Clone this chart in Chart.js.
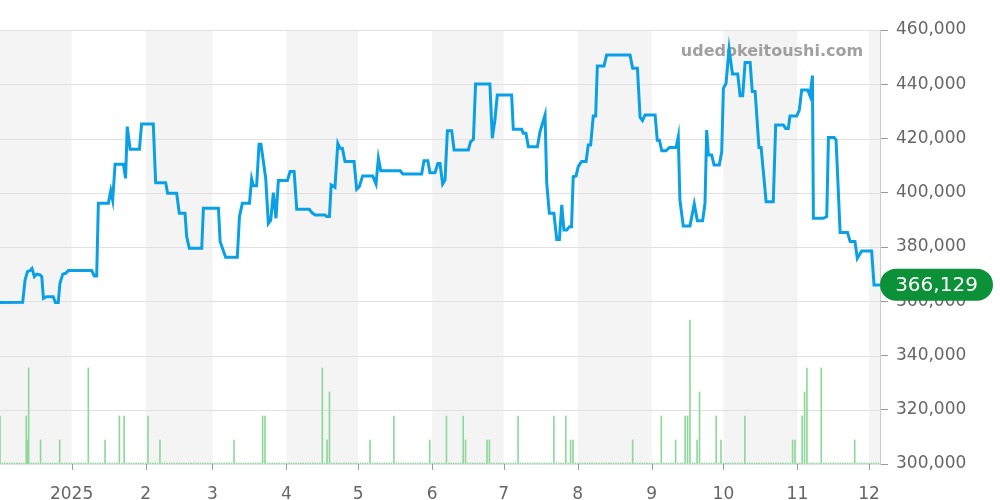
<!DOCTYPE html>
<html><head><meta charset="utf-8">
<script src="https://cdn.jsdelivr.net/npm/chart.js@4/dist/chart.umd.min.js"></script>
<style>html,body{margin:0;padding:0;background:#fff}#w{width:1000px;height:500px}</style>
</head><body><div id="w"><canvas id="c"></canvas></div>
<script>
// x = days since 2024-12-02
const monthStarts = [30,61,89,120,150,181,211,242,273,303,334,364];
const monthLabels = ['2025','2','3','4','5','6','7','8','9','10','11','12'];
const shadedMonths = [[0,30],[61,89],[120,150],[181,211],[242,273],[303,334],[364,368.6]];
const priceDays = [0,9.5,10.5,11.5,12.6,13.4,14.4,15.4,16.8,17.5,18.2,19.5,22.3,23.2,24.4,25.1,26.3,27.5,28.6,38.4,39.5,40.5,41.2,45.4,46.4,47.2,48.2,51.7,52.6,53.3,54.5,58.4,59.3,64.2,65.2,69.4,70.2,74.0,75.1,77.5,78.2,79.3,84.5,85.2,91.5,92.2,94.5,99.4,100.3,101.5,104.5,105.4,106.1,107.5,108.5,109.3,111.3,112.4,113.4,114.5,115.6,116.6,120.4,121.5,123.2,124.3,129.6,130.6,132.0,136.2,136.8,138.0,138.7,140.3,141.5,142.4,143.4,144.5,148.3,149.4,150.5,151.9,156.1,157.5,158.5,159.5,167.6,168.7,176.6,177.6,179.2,180.1,182.2,183.4,184.3,185.4,186.4,187.4,189.2,190.2,196.2,197.1,198.3,199.2,205.2,206.2,207.3,208.3,214.3,215.0,218.5,219.2,220.3,221.3,225.1,226.2,228.3,229.0,230.1,232.0,233.2,234.3,235.3,236.2,237.4,238.5,239.4,240.1,241.3,242.2,243.6,245.5,246.4,247.4,248.5,249.5,250.2,253.0,254.1,263.9,265.0,267.0,268.1,269.1,270.2,274.4,275.3,276.2,277.2,279.0,280.4,283.2,284.1,284.8,286.2,289.0,290.8,292.1,294.3,295.3,296.0,296.7,298.1,299.1,301.3,302.3,303.0,304.1,305.4,306.8,309.0,310.0,311.1,312.1,314.2,315.1,316.3,317.9,318.8,320.9,323.9,324.9,328.1,329.1,330.2,330.9,333.7,334.8,335.8,338.3,339.3,340.3,340.7,344.9,346.3,347.0,349.4,350.2,351.9,355.0,356.1,358.1,359.1,360.9,365.1,366.1,368.6];
const priceValues = [359500,359600,367800,370900,371300,372100,369100,370000,369700,369100,361100,361700,361700,359500,359500,366600,370000,370300,371300,371300,369300,369300,396100,396100,400800,397300,410500,410500,405300,424400,416000,416000,425300,425300,403700,403700,399800,399800,392400,392400,383800,379500,379500,394300,394300,382000,376200,376200,391200,396100,396100,405100,402600,402600,417900,417900,405300,388700,389900,400000,390600,404500,404500,407800,407800,393900,393900,392700,391800,391800,391200,391200,402900,402000,418200,416400,416400,411500,411500,401300,402200,406200,406200,403200,412700,408100,408100,406900,406900,411800,411800,407400,407400,410800,410800,403200,404700,422900,422900,415800,415800,418800,419700,440100,440100,420100,426800,436000,436000,423400,423400,421900,421900,417000,417000,422500,428700,403500,392400,392400,382800,382800,395500,386300,386300,387500,387500,405900,406200,409600,411500,411500,417600,417600,428300,428300,446700,446700,450800,450800,445900,445900,427800,426600,428700,428700,419400,419400,415500,415500,416700,416700,420700,397300,387700,387700,395900,389700,389700,396100,423100,413900,413900,410200,410200,415100,438500,440300,453000,443800,443800,435800,435800,448000,448000,437300,437300,416700,416700,396700,396700,425000,425000,423700,423700,428300,428300,430500,437900,437900,435700,443200,390600,390600,391200,420400,420400,419400,385300,385300,382000,382000,375800,378500,378500,366000,366000];
const latestPrice = 366129;
const volumeDays = [0,11,11.5,12,17,25,37,44,50,52,62,67,98,110,111,135,137,138,155,165,180,187,194,195,204,205,217,232,237,239,240,265,277,283,287,288,289,292,293,300,302,312,332,333,336,337,338,344,358];
const volumeCounts = [2,2,1,4,1,1,4,1,2,2,2,1,1,2,2,4,1,3,1,2,1,2,2,1,1,1,2,2,2,1,1,1,2,1,2,2,6,1,3,2,1,2,1,1,2,3,4,4,1];
const yTicks = [300000,320000,340000,360000,380000,400000,420000,440000,460000];

const linePts = priceDays.map((d,i)=>({x:d,y:priceValues[i]}));
const volMap = {}; volumeDays.forEach((d,i)=>volMap[d]=volumeCounts[i]);
const volPts = [];
for(let d=0; d<=368; d++){ if(!(d in volMap)) volPts.push({x:d,y:0}); }
volumeDays.forEach((d,i)=>volPts.push({x:d,y:volumeCounts[i]}));

const bands = {id:'bands', beforeDatasetsDraw(ch){
  const {ctx, chartArea:a, scales:{x}} = ch;
  ctx.save(); ctx.fillStyle='#f4f4f4';
  shadedMonths.forEach(([s,e])=>{const l=x.getPixelForValue(s), r=x.getPixelForValue(e); ctx.fillRect(l,a.top,r-l,a.bottom-a.top);});
  ctx.strokeStyle='#e0e0e0'; ctx.lineWidth=1;
  const y=ch.scales.y;
  yTicks.forEach(v=>{const p=Math.round(y.getPixelForValue(v))+0.5; ctx.beginPath(); ctx.moveTo(a.left,p); ctx.lineTo(a.right,p); ctx.stroke();});
  ctx.strokeStyle='#999';
  monthStarts.forEach(v=>{const p=Math.round(x.getPixelForValue(v))+0.5; ctx.beginPath(); ctx.moveTo(p,a.bottom); ctx.lineTo(p,a.bottom+6); ctx.stroke();});
  ctx.fillStyle='rgba(150,150,150,0.9)'; ctx.font='bold 16px "DejaVu Sans"'; ctx.textAlign='center'; ctx.textBaseline='middle';
  ctx.fillText('udedokeitoushi.com', 772, 52);
  ctx.restore();
}};
const badge = {id:'badge', afterDraw(ch){
  const {ctx, scales:{y}, chartArea:a} = ch;
  const py = y.getPixelForValue(latestPrice);
  const l=a.right, r=993, h=32, t=py-h/2, rad=16;
  ctx.save(); ctx.fillStyle='#0c9038';
  ctx.beginPath(); ctx.moveTo(l+rad,t); ctx.lineTo(r-rad,t); ctx.arc(r-rad,py,rad,-Math.PI/2,Math.PI/2); ctx.lineTo(l+rad,t+h); ctx.arc(l+rad,py,rad,Math.PI/2,Math.PI*1.5); ctx.closePath(); ctx.fill();
  ctx.fillStyle='#fff'; ctx.font='20px "DejaVu Sans"'; ctx.textAlign='center'; ctx.textBaseline='middle';
  ctx.fillText(latestPrice.toLocaleString('en-US'), (l+r)/2, py+1);
  ctx.restore();
}};

new Chart(document.getElementById('c'), {
  data:{datasets:[
    {type:'line', data:linePts, borderColor:'#0aa0e6', borderWidth:3, pointRadius:0, tension:0, yAxisID:'y', order:1},
    {type:'bar', data:volPts, backgroundColor:'#8fd89c', barThickness:1, minBarLength:1, yAxisID:'y2', order:2}
  ]},
  options:{responsive:true, maintainAspectRatio:false, animation:false,
    layout:{padding:{top:30,left:0,right:0,bottom:0}},
    plugins:{legend:{display:false}, tooltip:{enabled:false}},
    scales:{
      x:{type:'linear', min:0, max:368.6, offset:false,
        afterBuildTicks(s){s.ticks=monthStarts.map(v=>({value:v}));},
        afterFit(s){s.height=36;},
        ticks:{autoSkip:false, maxRotation:0, color:'#666', font:{size:17,family:'DejaVu Sans'}, padding:12,
          callback(v){const i=monthStarts.indexOf(v); return i>=0?monthLabels[i]:'';}},
        grid:{display:false},
        border:{display:true, color:'#ddd'}},
      y:{position:'right', min:300000, max:460000,
        afterBuildTicks(s){s.ticks=yTicks.map(v=>({value:v}));},
        afterFit(s){s.width=120;},
        ticks:{color:'#666', font:{size:17,family:'DejaVu Sans'}, padding:8, callback:v=>v.toLocaleString('en-US')},
        grid:{color:'#e0e0e0', drawOnChartArea:false, tickLength:8, tickColor:'#999'},
        border:{color:'#ccc'}},
      y2:{display:false, min:0, max:18.08}
    }}
  , plugins:[bands, badge]
});
</script></body></html>
